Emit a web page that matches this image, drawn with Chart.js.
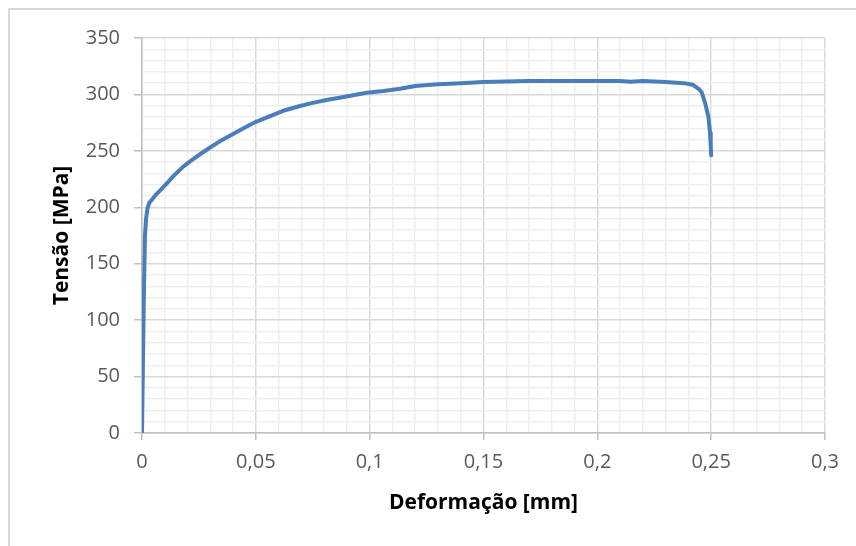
<!DOCTYPE html>
<html>
<head>
<meta charset="utf-8">
<script src="https://cdn.jsdelivr.net/npm/chart.js@4.4.1/dist/chart.umd.min.js"></script>
<style>
  html, body { margin: 0; padding: 0; background: #fff; overflow: hidden; }
  #frame {
    position: absolute; left: 8px; top: 8px; width: 900px; height: 600px;
    border-top: 2px solid #d9d9d9; border-left: 2px solid #d9d9d9;
  }
  #theChart { position: absolute; left: 0; top: 0; }
</style>
</head>
<body>
<div id="frame"></div>
<canvas id="theChart" width="856" height="546"></canvas>
<script>
"use strict";

// Values
const strain = [
  0, 0.0008, 0.0013, 0.0018, 0.0024, 0.0032, 0.0045,
  0.006, 0.008, 0.0108, 0.014, 0.0181, 0.022, 0.0255, 0.0299, 0.035, 0.04,
  0.045, 0.0498, 0.056, 0.062, 0.069, 0.075, 0.081, 0.088, 0.0987, 0.106,
  0.1133, 0.12, 0.13, 0.14, 0.15, 0.16, 0.17, 0.18, 0.19, 0.2,
  0.21, 0.2145, 0.22, 0.23, 0.238, 0.242, 0.2445, 0.2458, 0.2474, 0.2488,
  0.2495, 0.2498, 0.25
];
const stress = [
  0, 120, 175, 190, 199, 204, 207,
  211, 215, 221, 228, 236, 242, 247, 253, 259.5, 265,
  270.5, 275.5, 280.5, 285.5, 289.5, 292.5, 295, 297.5, 301.5, 303,
  305, 307.5, 309, 310, 311, 311.5, 312, 312, 312, 312,
  312, 311.2, 312, 311, 310, 308.5, 305, 302, 292, 280,
  266, 255, 246
];

const xTickLabels = ["0", "0,05", "0,1", "0,15", "0,2", "0,25", "0,3"];
const yTickLabels = ["0", "50", "100", "150", "200", "250", "300", "350"];

const points = strain.map((s, i) => ({ x: s, y: stress[i] }));

const majorGrid = "#d9d9d9";
const minorGrid = "#efefef";
const axisGray = "#bfbfbf";
const tickFont = { family: "Open Sans", size: 20 };
const titleFont = { family: "Open Sans", size: 21, weight: "bold" };

// helpers: which tick is a major one
const xIsMajor = (v) => Math.round(v * 100) % 5 === 0;
const yIsMajor = (v) => Math.round(v) % 50 === 0;

new Chart(document.getElementById("theChart"), {
  type: "line",
  data: {
    datasets: [{
      data: points,
      borderColor: "#4a7ebb",
      borderWidth: 4,
      pointRadius: 0,
      tension: 0,
      borderJoinStyle: "round",
      borderCapStyle: "round",
      fill: false
    }]
  },
  options: {
    responsive: false,
    animation: false,
    layout: { padding: { left: 0, top: 38, right: 31, bottom: 0 } },
    plugins: { legend: { display: false }, tooltip: { enabled: false } },
    scales: {
      x: {
        type: "linear",
        min: 0,
        max: 0.3,
        afterFit: (scale) => { scale.height = 113; },
        ticks: {
          stepSize: 0.01,
          autoSkip: false,
          maxRotation: 0,
          padding: 10,
          color: "#595959",
          font: tickFont,
          callback: (v) => xIsMajor(v) ? xTickLabels[Math.round(v * 20)] : ""
        },
        grid: {
          color: (ctx) => xIsMajor(ctx.tick.value) ? majorGrid : minorGrid,
          lineWidth: 1.5,
          tickLength: 7,
          tickColor: (ctx) => xIsMajor(ctx.tick.value) ? axisGray : "rgba(0,0,0,0)"
        },
        border: { color: axisGray, width: 1.5 },
        title: {
          display: true,
          text: "Deformação [mm]",
          color: "#000",
          font: titleFont,
          padding: { top: 0, bottom: 30 }
        }
      },
      y: {
        type: "linear",
        min: 0,
        max: 350,
        afterFit: (scale) => { scale.width = 142; },
        ticks: {
          stepSize: 10,
          autoSkip: false,
          padding: 14,
          color: "#595959",
          font: tickFont,
          callback: (v) => yIsMajor(v) ? yTickLabels[Math.round(v / 50)] : ""
        },
        grid: {
          color: (ctx) => yIsMajor(ctx.tick.value) ? majorGrid : minorGrid,
          lineWidth: 1.5,
          tickLength: 8,
          tickColor: (ctx) => yIsMajor(ctx.tick.value) ? axisGray : "rgba(0,0,0,0)"
        },
        border: { color: axisGray, width: 1.5 },
        title: {
          display: true,
          text: "Tensão [MPa]",
          color: "#000",
          font: titleFont,
          padding: { top: 49, bottom: 0 }
        }
      }
    }
  }
});
</script>
</body>
</html>
